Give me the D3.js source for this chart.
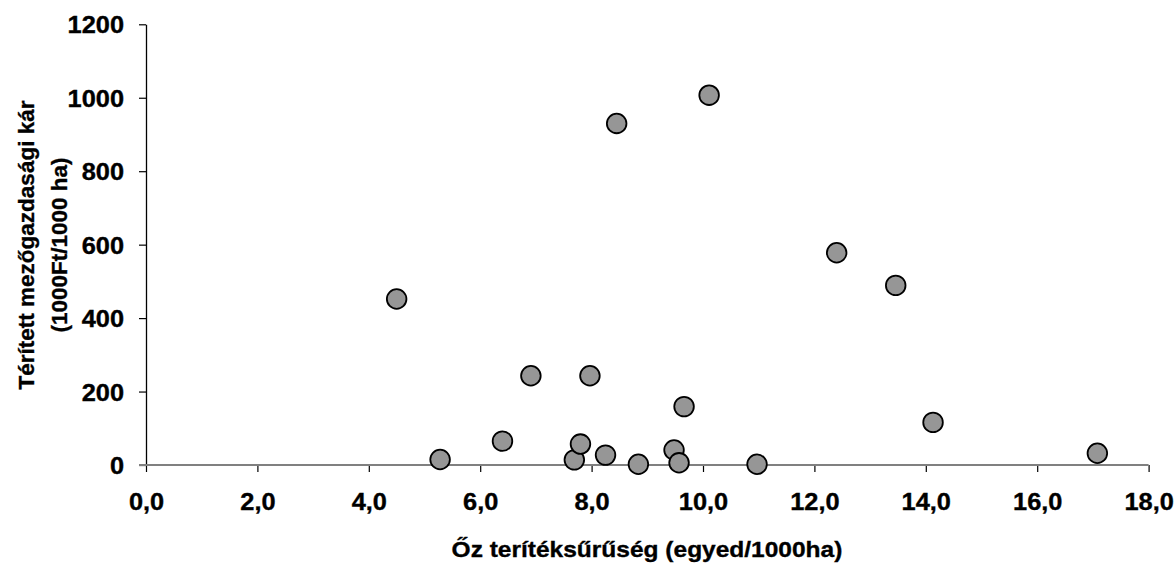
<!DOCTYPE html>
<html><head><meta charset="utf-8">
<script src="https://cdn.jsdelivr.net/npm/d3@7"></script>
<style>body{margin:0;background:#fff}svg{display:block}text{font-family:"Liberation Sans",Arial,sans-serif;font-weight:bold;fill:#000;stroke:#000;stroke-width:0.35px}</style>
</head><body>
<script>
const xValues = [4.50,5.28,6.40,6.91,7.69,7.80,7.97,8.25,8.45,8.84,9.48,9.57,9.66,10.11,10.97,12.40,13.46,14.13,17.08];
const yValues = [452,15,65,243,14,57,243,27,930,2,41,6,159,1007,2,578,489,116,32];
const xTicks = [0,2,4,6,8,10,12,14,16,18];
const yTicks = [0,200,400,600,800,1000,1200];
const xTitle = "Őz terítéksűrűség (egyed/1000ha)";
const yTitle = ["Térített mezőgazdasági kár","(1000Ft/1000 ha)"];

const W=1174,H=563;
const svg=d3.select("body").append("svg").attr("width",W).attr("height",H);
const x=d3.scaleLinear().domain([0,18]).range([146,1148.6]);
const y=d3.scaleLinear().domain([0,1200]).range([465,24.3]);
const fmt=d=>d.toFixed(1).replace(".",",");
const SX=1.08, FS=23.5;

const gx=svg.append("g").attr("transform",`translate(0,${y(0)})`)
  .call(d3.axisBottom(x).tickValues(xTicks).tickFormat(fmt).tickSize(7).tickSizeOuter(0));
gx.select(".domain").remove();
gx.selectAll(".tick line").attr("stroke","#000").attr("stroke-width",1.2);
gx.selectAll(".tick text").attr("font-size",FS).attr("y",0).attr("dy",0)
  .attr("transform",`translate(0,45) scale(${SX},1)`);

const gy=svg.append("g").attr("transform",`translate(${x(0)},0)`)
  .call(d3.axisLeft(y).tickValues(yTicks).tickFormat(d3.format("d")).tickSize(7).tickSizeOuter(0));
gy.select(".domain").attr("stroke","#000").attr("stroke-width",1.3);
gy.selectAll(".tick line").attr("stroke","#000").attr("stroke-width",1.2);
gy.selectAll(".tick text").attr("font-size",FS).attr("x",0).attr("dy","0.36em")
  .attr("transform",`translate(-22,0) scale(${SX},1)`);

// x axis baseline (gray)
svg.append("line").attr("x1",x(0)-7).attr("x2",x(18)).attr("y1",y(0)).attr("y2",y(0))
  .attr("stroke","#808080").attr("stroke-width",2);

// points
svg.append("g").selectAll("circle").data(xValues.map((v,i)=>[v,yValues[i]])).join("circle")
  .attr("cx",d=>x(d[0])).attr("cy",d=>y(d[1])).attr("r",9.8)
  .attr("fill","#969696").attr("stroke","#000").attr("stroke-width",1.8);

// titles
svg.append("text").attr("x",647/1.08).attr("y",557).attr("text-anchor","middle").attr("font-size",22.7)
  .attr("transform",`scale(1.08,1)`).text(xTitle);
yTitle.forEach((t,i)=>{
  svg.append("text").attr("text-anchor","middle").attr("font-size",22.5)
    .attr("transform",`translate(${34+i*33},245) rotate(-90)`).text(t);
});
</script>
</body></html>
